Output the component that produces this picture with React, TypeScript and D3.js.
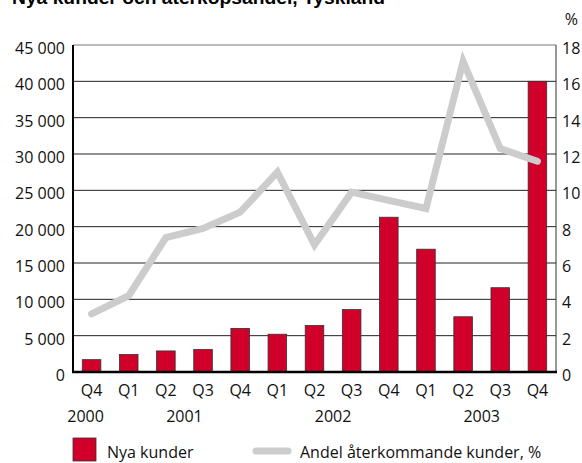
import React from 'react';
import * as d3 from 'd3';

const quarters = ['Q4', 'Q1', 'Q2', 'Q3', 'Q4', 'Q1', 'Q2', 'Q3', 'Q4', 'Q1', 'Q2', 'Q3', 'Q4'];
const years = [
  { label: '2000', from: 0, to: 0 },
  { label: '2001', from: 1, to: 4 },
  { label: '2002', from: 5, to: 8 },
  { label: '2003', from: 9, to: 12 },
];
const newCustomers = [1700, 2400, 2900, 3100, 6000, 5200, 6400, 8600, 21300, 16900, 7600, 11600, 40000];
const returningShare = [3.2, 4.2, 7.4, 7.9, 8.8, 11.0, 7.0, 9.9, 9.45, 9.0, 17.1, 12.3, 11.6];
const leftTicks = [0, 5000, 10000, 15000, 20000, 25000, 30000, 35000, 40000, 45000];
const rightTicks = [0, 2, 4, 6, 8, 10, 12, 14, 16, 18];

const W = 582;
const H = 463;
const margin = { top: 45, right: 26, bottom: 91, left: 73 };
const font = "'Open Sans', sans-serif";
const fs = 16;

export default function App() {
  const x = d3
    .scaleBand<number>()
    .domain(d3.range(quarters.length))
    .range([margin.left, W - margin.right])
    .paddingInner(0.5)
    .paddingOuter(0.25);
  const yL = d3.scaleLinear().domain([0, 45000]).range([H - margin.bottom, margin.top]);
  const yR = d3.scaleLinear().domain([0, 18]).range([H - margin.bottom, margin.top]);
  const cx = (i: number) => (x(i) as number) + x.bandwidth() / 2;

  const line = d3
    .line<number>()
    .x((_, i) => cx(i))
    .y(d => yR(d));

  const fmt = (v: number) => d3.format(',')(v).replace(',', ' ');
  const x0 = margin.left;
  const x1 = W - margin.right;
  const yBottom = H - margin.bottom;

  return (
    <svg width={W} height={H} style={{ position: 'absolute', left: 0, top: 0 }} fontFamily={font}>
      <rect width={W} height={H} fill="#fff" />
      {/* title is clipped by the top edge, as in the original */}
      <text x={12} y={4} fontSize={19} fontWeight="bold" fontFamily="'Liberation Sans', sans-serif" textLength={373} lengthAdjust="spacingAndGlyphs">
        Nya kunder och återköpsandel, Tyskland
      </text>
      <text x={578} y={25} fontSize={fs} textAnchor="end" fill="#111">%</text>

      {/* grid */}
      {leftTicks.map(t => (
        <line key={t} x1={x0} x2={x1} y1={yL(t)} y2={yL(t)} stroke={t === 45000 ? '#777' : '#222'} strokeWidth={1} />
      ))}
      <line x1={x1} x2={x1} y1={margin.top} y2={yBottom} stroke="#333" strokeWidth={1} />

      {/* bars */}
      {newCustomers.map((v, i) => (
        <rect
          key={i}
          x={x(i)}
          y={yL(v)}
          width={x.bandwidth()}
          height={yBottom - yL(v)}
          fill="#d0002a"
          stroke="#333"
          strokeWidth={0.8}
        />
      ))}

      {/* line */}
      <path d={line(returningShare) || ''} fill="none" stroke="#cccccc" strokeWidth={7} strokeLinecap="round" strokeLinejoin="miter" />

      {/* axes */}
      <line x1={x0} x2={x0} y1={margin.top} y2={yBottom + 1} stroke="#000" strokeWidth={2} />
      <line x1={x0 - 1} x2={x1 + 1} y1={yBottom} y2={yBottom} stroke="#000" strokeWidth={2.5} />

      {leftTicks.map(t => (
        <text key={t} x={65} y={yL(t) + 9} fontSize={fs} textAnchor="end" fill="#111">
          {fmt(t)}
        </text>
      ))}
      {rightTicks.map(t => (
        <text key={t} x={562} y={yR(t) + 9} fontSize={fs} fill="#111">
          {t}
        </text>
      ))}

      {quarters.map((q, i) => (
        <text key={i} x={cx(i)} y={396} fontSize={fs} textAnchor="middle" fill="#111">
          {q}
        </text>
      ))}
      {years.map(y => (
        <text key={y.label} x={(cx(y.from) + cx(y.to)) / 2 - (y.from === y.to ? 6 : 0)} y={422} fontSize={fs} textAnchor="middle" fill="#111">
          {y.label}
        </text>
      ))}

      {/* legend */}
      <rect x={73} y={438} width={23} height={23} fill="#d0002a" stroke="#333" strokeWidth={0.8} />
      <text x={107} y={458} fontSize={fs} fill="#111">Nya kunder</text>
      <line x1={256} x2={288} y1={451} y2={451} stroke="#cccccc" strokeWidth={7} strokeLinecap="round" />
      <text x={300} y={458} fontSize={fs} fill="#111">Andel återkommande kunder, %</text>
    </svg>
  );
}
